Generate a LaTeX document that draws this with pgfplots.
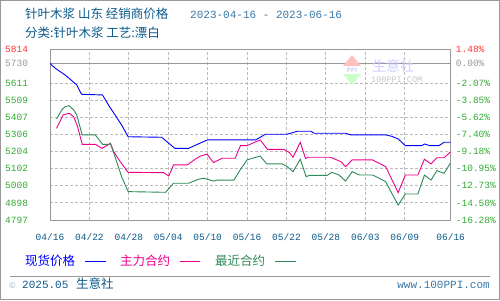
\documentclass[border=0pt]{standalone}
\usepackage{pgfplots}
\pgfplotsset{compat=1.18}
\usepackage{fontspec}
\setmainfont{Noto Sans CJK SC}
\setmonofont{Liberation Mono}
\definecolor{tgreen}{HTML}{33AA33}
\definecolor{tred}{HTML}{FF3333}
\definecolor{tgray}{HTML}{999999}
\definecolor{ttl}{HTML}{0B5A8C}
\definecolor{tdate}{HTML}{3A78A8}
\definecolor{lgreen}{HTML}{2E8B57}
\definecolor{xlab}{HTML}{0A5A8A}
\definecolor{gridc}{HTML}{BBBBBB}
\newcommand{\tk}{\ttfamily\fontsize{9.5}{10}\selectfont}
\begin{document}
\begin{tikzpicture}[x=1pt,y=1pt]
\useasboundingbox (0,0) rectangle (500,300);
\fill[white] (0,0) rectangle (500,300);
\draw[tgray, line width=1pt] (0.5,0.5) rectangle (499.5,299.5);
\coordinate (A) at (50,80);
% grid (background)
\foreach \xx in {89.41,128.83,168.24,207.65,247.07,286.48,325.89,365.31,404.72} {
  \draw[gridc, line width=1pt, dash pattern=on 3pt off 2pt] (\xx,80) -- (\xx,250.7);
}
\foreach \yy in {97.07,114.14,131.21,148.28,165.35,182.42,199.49,216.56} {
  \draw[gridc, line width=1pt, dash pattern=on 3pt off 2pt] (50,\yy) -- (450.7,\yy);
}
\draw[tgray, line width=1pt] (50,236.6) -- (450.7,236.6);
% title
\node[anchor=base west, inner sep=0pt, text=ttl, font=\fontsize{12.5}{13}\selectfont] at (25,281) {针叶木浆 山东 经销商价格};
\node[anchor=base west, inner sep=0pt, text=tdate, font=\ttfamily\fontsize{11}{12}\selectfont] at (190,281) {2023-04-16 - 2023-06-16};
\node[anchor=base west, inner sep=0pt, text=ttl, font=\fontsize{12.5}{13}\selectfont] at (25,262) {分类:针叶木浆 工艺:漂白};
% watermark
\fill[red!25] (352,245) -- (343,234) -- (361,234) -- cycle;
\fill[green!20] (343,226) -- (361,226) -- (352,215) -- cycle;
\node[inner sep=0pt, text=blue!18, font=\fontsize{6}{6}\selectfont\bfseries] at (352,230) {PPI};
\node[anchor=base west, inner sep=0pt, text=blue!18, font=\fontsize{14}{14}\selectfont] at (372,228) {生意社};
\node[anchor=base west, inner sep=0pt, text=black!22, font=\ttfamily\fontsize{8.5}{9}\selectfont] at (371,217) {100PPI.COM};
\begin{axis}[at={(A)}, anchor=south west, scale only axis,
  width=400.7pt, height=170.7pt,
  xmin=0, xmax=61, ymin=4797, ymax=5814,
  axis line style={draw=tgray, line width=1pt},
  tick style={draw=none},
  xtick={0,6,12,18,24,30,36,42,48,54,61},
  xticklabels={04/16,04/22,04/28,05/04,05/10,05/16,05/22,05/28,06/03,06/09,06/16},
  xticklabel style={font=\tk, text=xlab, inner sep=0pt, yshift=-13pt},
  ytick={4797,4898.7,5000.4,5102.1,5203.8,5305.5,5407.2,5508.9,5610.6,5730,5814},
  yticklabels={\textcolor{tgreen}{4797},\textcolor{tgreen}{4898},\textcolor{tgreen}{5000},\textcolor{tgreen}{5102},\textcolor{tgreen}{5204},\textcolor{tgreen}{5306},\textcolor{tgreen}{5407},\textcolor{tgreen}{5509},\textcolor{tgreen}{5611},\textcolor{tgray}{5730},\textcolor{tred}{5814}},
  yticklabel style={font=\tk, inner sep=0pt, anchor=west, xshift=-45pt},
  clip=true,
]
\addplot[blue, line width=0.9pt] coordinates {
(0,5730) (0.8,5701) (2.3,5661) (4.07,5602) (4.8,5546) (8,5542) (8.9,5482) (9.9,5423) (10.9,5363) (11.9,5293) (17,5290) (19,5224) (21.1,5224) (23.7,5270) (24,5274) (31.3,5274) (32.8,5308) (36.1,5308) (37.7,5326) (39.7,5326) (40.2,5314) (45,5314) (45.8,5304) (51.1,5304) (52,5296) (53,5280) (54.1,5240) (56.6,5240) (57,5250) (57.8,5240) (59.2,5240) (60,5260) (61,5260)
};
\addplot[magenta, line width=0.9pt] coordinates {
(1,5343) (2,5423) (2.9,5433) (3.6,5413) (4.2,5353) (4.9,5248) (6.9,5248) (7.9,5224) (8.65,5240) (9.2,5254) (9.7,5204) (10.7,5144) (11.9,5081) (17.3,5079) (18.1,5059) (18.8,5125) (20.9,5125) (22.1,5159) (22.9,5178) (23.9,5189) (24.9,5139) (26.2,5165) (28.2,5165) (29,5240) (30,5240) (30.8,5254) (32,5274) (33.1,5218) (35.6,5218) (36.4,5200) (37,5171) (38.1,5260) (38.9,5163) (39.3,5171) (42.7,5171) (44.3,5144) (45,5115) (46,5155) (49.1,5155) (50.1,5135) (51.1,5115) (53,4960) (54.1,5065) (56,5065) (57,5159) (58,5131) (58.9,5168) (60,5168) (61,5204)
};
\addplot[lgreen, line width=0.9pt] coordinates {
(1,5399) (1.8,5453) (2.3,5472) (2.9,5478) (3.6,5453) (4.07,5423) (4.9,5304) (6.9,5304) (8,5248) (8.9,5248) (9.2,5254) (9.9,5174) (10.9,5055) (11.9,4966) (17.6,4962) (18.8,5016) (21.1,5016) (22.6,5040) (23.4,5046) (24.9,5029) (25.5,5035) (28,5035) (29,5099) (30,5155) (30.8,5165) (32,5178) (33,5131) (35.4,5131) (36.1,5115) (37,5085) (38.1,5159) (39,5055) (39.5,5063) (42.2,5063) (42.9,5081) (44,5065) (45,5029) (46,5085) (47.1,5065) (49.1,5065) (50.1,5046) (51.1,5025) (53,4886) (54.1,4952) (56,4952) (57,5065) (58,5035) (58.9,5091) (60,5075) (61,5139)
};
\end{axis}
\begin{axis}[at={(A)}, anchor=south west, scale only axis,
  width=400.7pt, height=170.7pt,
  xmin=0, xmax=61, ymin=4797, ymax=5814,
  axis line style={draw=none},
  tick style={draw=none},
  xtick=\empty,
  ytick={4797,4898.7,5000.4,5102.1,5203.8,5305.5,5407.2,5508.9,5610.6,5730,5814},
  yticklabels={\textcolor{tgreen}{-16.28\%},\textcolor{tgreen}{-14.50\%},\textcolor{tgreen}{-12.73\%},\textcolor{tgreen}{-10.95\%},\textcolor{tgreen}{-9.18\%},\textcolor{tgreen}{-7.40\%},\textcolor{tgreen}{-5.62\%},\textcolor{tgreen}{-3.85\%},\textcolor{tgreen}{-2.07\%},\textcolor{tgray}{0.00\%},\textcolor{tred}{1.48\%}},
  yticklabel pos=right,
  yticklabel style={font=\tk, inner sep=0pt, anchor=west, xshift=5pt},
]
\end{axis}
% legend
\node[anchor=base west, inner sep=0pt, text=blue, font=\fontsize{12.5}{13}\selectfont] at (25,35) {现货价格};
\draw[blue, line width=0.9pt] (85,39) -- (106,39);
\node[anchor=base west, inner sep=0pt, text=magenta, font=\fontsize{12.5}{13}\selectfont] at (120,35) {主力合约};
\draw[magenta, line width=0.9pt] (180,39) -- (200,39);
\node[anchor=base west, inner sep=0pt, text=lgreen, font=\fontsize{12.5}{13}\selectfont] at (215,35) {最近合约};
\draw[lgreen, line width=0.9pt] (275,39) -- (296,39);
% footer
\draw[tgray, line width=0.8pt] (10,24) -- (490,24);
\node[anchor=base west, inner sep=0pt, text=tdate!60, font=\fontsize{8}{9}\selectfont] at (9,12) {©};
\node[anchor=base west, inner sep=0pt, text=ttl, font=\ttfamily\fontsize{11}{12}\selectfont] at (22,12) {2025.05};
\node[anchor=base west, inner sep=0pt, text=ttl, font=\fontsize{12.5}{13}\selectfont] at (76,12) {生意社};
\node[anchor=base east, inner sep=0pt, text=tdate, font=\ttfamily\fontsize{11}{12}\selectfont] at (490,12) {www.100PPI.com};
\end{tikzpicture}
\end{document}
